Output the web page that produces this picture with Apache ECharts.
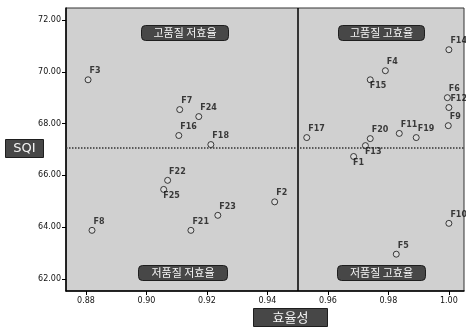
<!DOCTYPE html>
<html>
<head>
<meta charset="utf-8">
<script src="https://cdn.jsdelivr.net/npm/echarts@6/dist/echarts.min.js"></script>
<style>
  html, body { margin: 0; padding: 0; background: #fff; }
  #chart { width: 466px; height: 329px; }
</style>
</head>
<body>
<div id="chart"></div>
<script>
// SQI vs 효율성 quadrant scatter

const names = ["F1", "F2", "F3", "F4", "F5", "F6", "F7", "F8", "F9", "F10", "F11", "F12", "F13",
               "F14", "F15", "F16", "F17", "F18", "F19", "F20", "F21", "F22", "F23", "F24", "F25"];
const effValues = [0.9685, 0.9424, 0.8807, 0.979, 0.9826, 0.9995, 0.911, 0.882, 0.9998, 1.0, 0.9836, 1.0, 0.9724,
                   1.0, 0.974, 0.9107, 0.953, 0.9213, 0.9892, 0.974, 0.9147, 0.907, 0.9236, 0.9173, 0.9057];
const sqiValues = [66.73, 64.98, 69.69, 70.04, 62.96, 69.0, 68.54, 63.88, 67.92, 64.15, 67.62, 68.62, 67.15,
                   70.85, 69.69, 67.54, 67.46, 67.19, 67.46, 67.42, 63.88, 65.81, 64.46, 68.27, 65.46];
const labelsBelow = ["F1", "F13", "F15", "F25"];

const xTicks = [0.88, 0.90, 0.92, 0.94, 0.96, 0.98, 1.00];
const yTicks = [62, 64, 66, 68, 70, 72];
const meanEff = 0.9516;
const meanSqi = 67.08;

const quadrantNames = ["고품질 저효율", "고품질 고효율", "저품질 저효율", "저품질 고효율"];

(function () {
    const chart = echarts.init(document.getElementById("chart"));

    const points = names.map((n, i) => {
        const below = labelsBelow.indexOf(n) >= 0;
        return {
            name: n,
            value: [effValues[i], sqiValues[i]],
            label: { position: below ? [3, 6] : [5, -9] }
        };
    });

    // dark rounded box with white text
    function box(x, y, w, h, r, text, font) {
        return {
            type: "rect",
            left: x, top: y,
            shape: { width: w, height: h, r: r },
            style: { fill: "#474747", stroke: "#1e1e1e", lineWidth: 1 },
            textContent: { style: { text: text, fill: "#f4f4f4", font: font } },
            textConfig: { position: "inside" }
        };
    }
    const kr = "11px 'Noto Sans CJK KR'";

    chart.setOption({
        animation: false,
        backgroundColor: "#fff",
        grid: {
            left: 66, right: 2, top: 8, bottom: 38,
            show: true,
            backgroundColor: "#d0d0d0",
            borderColor: "#333",
            borderWidth: 1
        },
        xAxis: {
            type: "value",
            min: 0.8734, max: 1.005,
            axisLine: { lineStyle: { color: "#000", width: 1.5 } },
            axisTick: { length: 4, customValues: xTicks, lineStyle: { color: "#000" } },
            axisLabel: {
                customValues: xTicks, color: "#111", fontSize: 8, margin: 6,
                formatter: (v) => v.toFixed(2), fontFamily: "DejaVu Sans"
            },
            splitLine: { show: false }
        },
        yAxis: {
            type: "value",
            min: 61.54, max: 72.46,
            axisLine: { lineStyle: { color: "#000", width: 1.5 } },
            axisTick: { length: 4, customValues: yTicks, lineStyle: { color: "#000" } },
            axisLabel: {
                customValues: yTicks, color: "#111", fontSize: 8, margin: 5,
                formatter: (v) => v.toFixed(2), fontFamily: "DejaVu Sans"
            },
            splitLine: { show: false }
        },
        series: [{
            type: "scatter",
            symbol: "circle",
            symbolSize: 6,
            itemStyle: { color: "rgba(255,255,255,0.3)", borderColor: "#111", borderWidth: 1 },
            label: {
                show: true,
                formatter: (p) => p.name,
                color: "#111",
                fontSize: 8,
                fontWeight: "bold",
                fontFamily: "DejaVu Sans"
            },
            data: points,
            markLine: {
                silent: true,
                symbol: "none",
                label: { show: false },
                data: [
                    { xAxis: meanEff, lineStyle: { color: "#000", width: 1.5, type: "solid" } },
                    { yAxis: meanSqi, lineStyle: { color: "#333", width: 1.5, type: "dotted" } }
                ]
            }
        }],
        graphic: [
            box(141, 25, 87, 15, 4, quadrantNames[0], kr),
            box(338, 25, 86, 15, 4, quadrantNames[1], kr),
            box(138, 265, 89, 15, 4, quadrantNames[2], kr),
            box(337, 265, 88, 15, 4, quadrantNames[3], kr),
            box(253, 308, 74, 18, 0, "효율성", "13px 'Noto Sans CJK KR'"),
            box(5, 139, 38, 18, 0, "SQI", "13px 'DejaVu Sans'")
        ]
    });
})();
</script>
</body>
</html>
